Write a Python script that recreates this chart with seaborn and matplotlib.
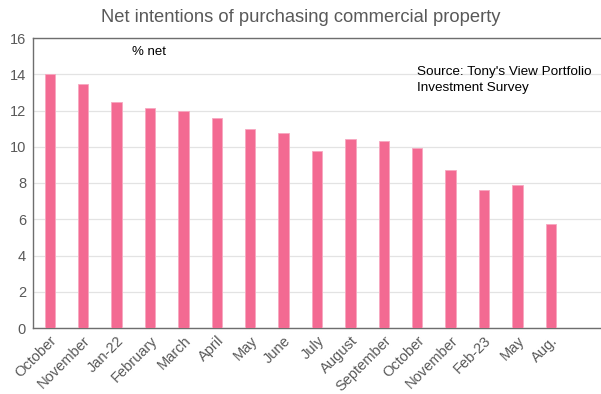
import matplotlib
matplotlib.use("Agg")
import matplotlib.pyplot as plt
import seaborn as sns
import pandas as pd

categories = ["October", "November", "Jan-22", "February", "March", "April", "May", "June",
              "July", "August", "September", "October ", "November ", "Feb-23", "May ", "Aug."]
values = [14.0, 13.45, 12.49, 12.14, 11.97, 11.59, 10.99, 10.77,
          9.77, 10.43, 10.33, 9.93, 8.72, 7.61, 7.89, 5.74]
yticks = [0, 2, 4, 6, 8, 10, 12, 14, 16]
title = "Net intentions of purchasing commercial property"

sns.set_theme(style="white")
plt.rcParams['font.family'] = ['Liberation Sans', 'DejaVu Sans']

df = pd.DataFrame({"cat": categories, "val": values})

fig = plt.figure(figsize=(6.01, 3.94), dpi=100)
ax = fig.add_axes([33/601, 1-328/394, 1-33/601, (328-38)/394])
sns.barplot(data=df, x="cat", y="val", color="#F36A92", width=0.31, ax=ax,
            saturation=1, edgecolor="#F7A8C0", linewidth=0.6, zorder=3)

ax.set_xlim(-0.5, 16.5)
ax.set_ylim(0, 16)
ax.set_yticks(yticks)
ax.set_yticklabels([str(t) for t in yticks], fontsize=10.5, color="#595959")
ax.set_xticks(range(len(categories)))
ax.set_xticklabels([c.strip() for c in categories], rotation=45, ha="right",
                   rotation_mode="anchor", fontsize=10.5, color="#595959")
ax.tick_params(axis="both", length=0, pad=5)
ax.tick_params(axis="x", pad=4)
ax.set_xlabel("")
ax.set_ylabel("")
ax.grid(axis="y", color="#E3E3E3", linewidth=0.9, zorder=0)
for s in ["left", "bottom", "top"]:
    ax.spines[s].set_visible(True)
    ax.spines[s].set_color("#6E6E6E")
    ax.spines[s].set_linewidth(1.0)
ax.spines["right"].set_visible(False)

fig.text(0.5, 1-17/394, title, ha="center", va="center", fontsize=13.2, color="#595959")
fig.text(132/601, 1-52/394, "% net", ha="left", va="center", fontsize=9.5, color="black")
fig.text(417/601, 1-80/394, "Source: Tony's View Portfolio\nInvestment Survey", ha="left",
         va="center", fontsize=9.7, color="black", linespacing=1.35)

fig.savefig("out.png", dpi=100)
